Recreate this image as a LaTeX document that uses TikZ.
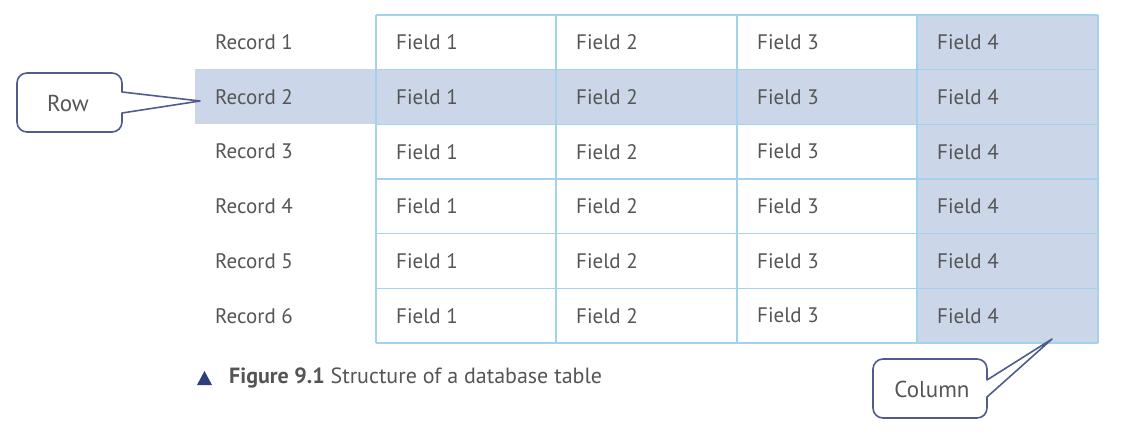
\documentclass[tikz,border=0pt]{standalone}
\usepackage{fontspec}
\setmainfont{PT Sans}
\definecolor{txtgray}{HTML}{555555}
\definecolor{rowshade}{HTML}{CBD6E9}
\definecolor{gridcol}{HTML}{A3D2EE}
\definecolor{callcol}{HTML}{505C8E}
\definecolor{tricol}{HTML}{2E3F7E}
\begin{document}
\begin{tikzpicture}[x=1pt,y=-1pt,
  lbl/.style={anchor=west,text=txtgray,font=\fontsize{21}{24}\selectfont,inner sep=0pt},
  callbox/.style={text=txtgray,font=\fontsize{23}{26}\selectfont,inner sep=0pt},
  callline/.style={draw=callcol,line width=1.6pt,fill=white,line join=round}]
\useasboundingbox (0,0) rectangle (1124,434);
% shading
\fill[rowshade] (195,69) rectangle (1098,123.67);
\fill[rowshade] (917,15) rectangle (1098,343);
% grid
\foreach \i in {0,...,6} {
  \draw[gridcol,line width=1.3pt] (376,{15+54.67*\i}) -- (1098,{15+54.67*\i});
}
\foreach \x in {376,556,737,917,1098} {
  \draw[gridcol,line width=1.3pt] (\x,15) -- (\x,343);
}
% labels
\foreach \r in {1,...,6} {
  \node[lbl] (rec\r) at (215,{15+54.67*(\r-0.5)}) {Record \r};
  \foreach \c/\x in {1/396,2/576,3/757,4/937} {
    \node[lbl] (f\r\c) at (\x,{15+54.67*(\r-0.5)}) {Field \c};
  }
}
% Row callout
\coordinate (rowtip) at (200,101);
\draw[callline] (rowtip) -- (122,113) [rounded corners=10pt] -- (122,132) -- (17,132) -- (17,73) -- (122,73) [sharp corners] -- (122,92) -- cycle;
\node[callbox] (row) at (68,103) {Row};
% Column callout
\coordinate (coltip) at (1052,339);
\draw[callline] (coltip) -- (987,397) [rounded corners=10pt] -- (987,418) -- (873,418) -- (873,359) -- (987,359) [sharp corners] -- (987,380) -- cycle;
\node[callbox] (col) at (932,389) {Column};
% caption
\fill[tricol] (197,385) -- (212,385) -- (204.5,371) -- cycle;
\node[anchor=west,text=txtgray,font=\fontsize{22}{24}\selectfont,inner sep=0pt] (cap) at (229,378) {\textbf{Figure 9.1} Structure of a database table};
\end{tikzpicture}
\end{document}
